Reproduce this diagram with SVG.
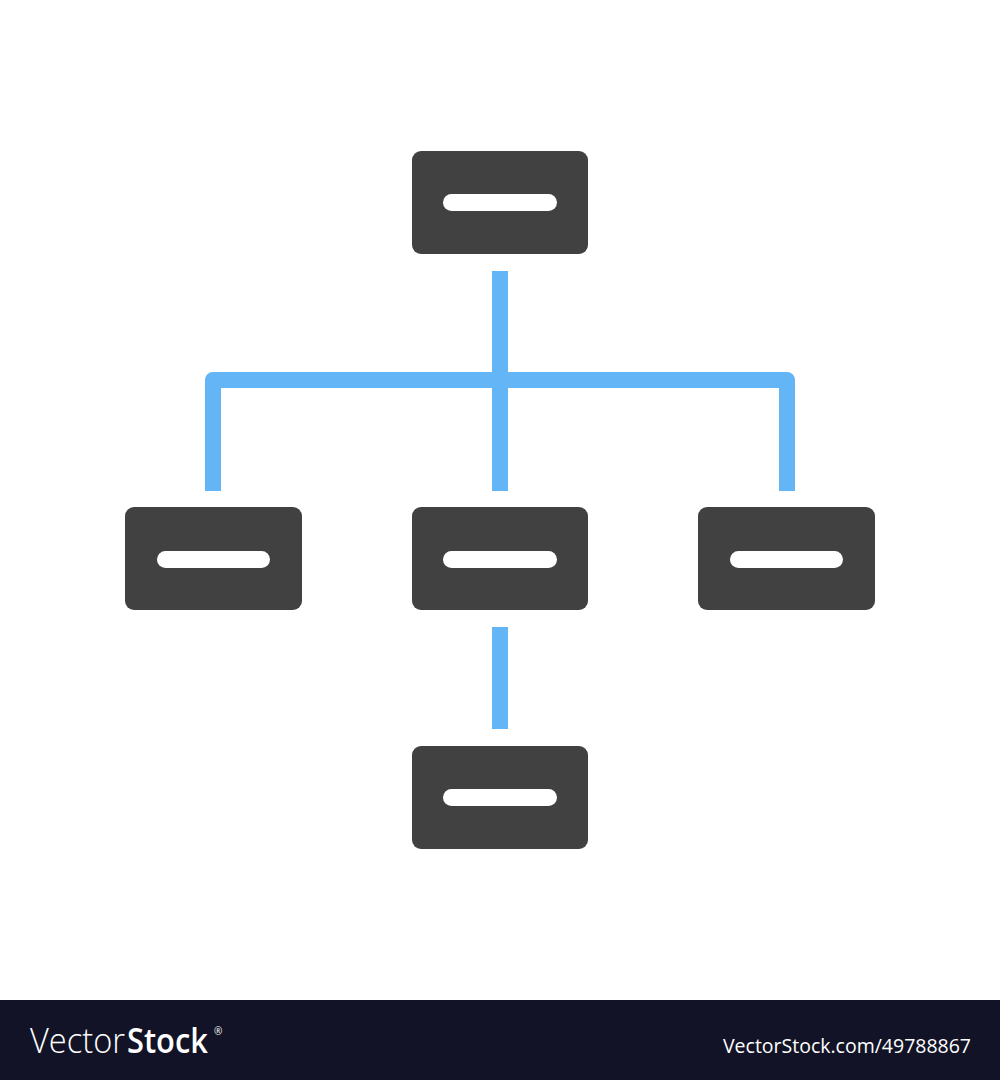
<svg xmlns="http://www.w3.org/2000/svg" width="1000" height="1080" viewBox="0 0 1000 1080">
  <style>
    .node rect.box { fill: #414141; }
    .node rect.bar { fill: #ffffff; }
    .conn { fill: none; stroke: #64b5f6; stroke-width: 16; stroke-linejoin: round; }
    .foot { fill: #ffffff; font-family: "Open Sans", "Liberation Sans", sans-serif; }
  </style>
  <rect x="0" y="0" width="1000" height="1080" fill="#ffffff"/>
  <g id="connectors">
    <line class="conn" x1="500" y1="271" x2="500" y2="491"/>
    <path class="conn" d="M213 491 V380 H787 V491"/>
    <line class="conn" x1="500" y1="627" x2="500" y2="729"/>
  </g>
  <g id="node-top" class="node">
    <rect class="box" x="412" y="151" width="176" height="103" rx="9"/>
    <rect class="bar" x="443" y="194" width="114" height="17" rx="8.5"/>
  </g>
  <g id="node-left" class="node">
    <rect class="box" x="125" y="507" width="177" height="103" rx="9"/>
    <rect class="bar" x="157" y="551" width="113" height="17" rx="8.5"/>
  </g>
  <g id="node-middle" class="node">
    <rect class="box" x="412" y="507" width="176" height="103" rx="9"/>
    <rect class="bar" x="443" y="551" width="114" height="17" rx="8.5"/>
  </g>
  <g id="node-right" class="node">
    <rect class="box" x="698" y="507" width="177" height="103" rx="9"/>
    <rect class="bar" x="730" y="551" width="113" height="17" rx="8.5"/>
  </g>
  <g id="node-bottom" class="node">
    <rect class="box" x="412" y="746" width="176" height="103" rx="9"/>
    <rect class="bar" x="443" y="789" width="114" height="17" rx="8.5"/>
  </g>
  <g id="footer">
    <rect x="0" y="1000" width="1000" height="80" fill="#121326"/>
    <text class="foot" x="30" y="1053" font-size="35" font-weight="300" textLength="95" lengthAdjust="spacingAndGlyphs">Vector</text>
    <text class="foot" transform="translate(127,1053) scale(0.88,1)" x="0" y="0" font-size="35" font-weight="600">Stock</text>
    <text class="foot" x="214" y="1035" font-size="10">®</text>
    <text class="foot" x="723" y="1053" font-size="20" textLength="248" lengthAdjust="spacingAndGlyphs">VectorStock.com/49788867</text>
  </g>
</svg>
